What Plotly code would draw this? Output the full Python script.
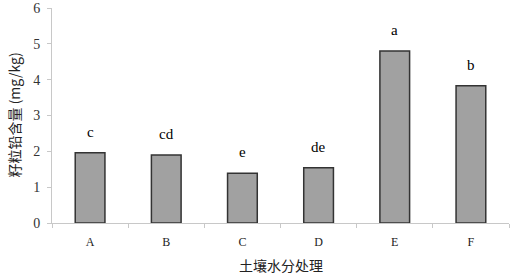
import plotly.graph_objects as go

categories = ["A", "B", "C", "D", "E", "F"]
values = [1.96, 1.90, 1.39, 1.54, 4.80, 3.83]
letters = ["c", "cd", "e", "de", "a", "b"]

fig = go.Figure()
fig.add_trace(go.Bar(
    x=categories, y=values,
    marker=dict(color="#a1a1a1", line=dict(color="#333333", width=1.5)),
    width=0.39,
))
for c, v, t in zip(categories, values, letters):
    fig.add_annotation(x=c, y=v, text=t, showarrow=False, yanchor="bottom", yshift=11,
                       font=dict(family="Liberation Serif, Times New Roman, serif", size=15, color="#000"))

fig.add_annotation(xref="paper", yref="paper", x=0.5, y=0, yanchor="middle", yshift=-42,
                   text="土壤水分处理", showarrow=False,
                   font=dict(family="Noto Sans CJK SC", size=14, color="#222"))
fig.add_annotation(xref="paper", yref="paper", x=0, y=0.5, xanchor="center", xshift=-39,
                   text="籽粒铅含量 (mg/kg)", showarrow=False, textangle=-90,
                   font=dict(family="Noto Sans CJK SC", size=14, color="#222"))

fig.update_layout(
    width=511, height=276,
    margin=dict(l=52, r=2, t=8, b=53),
    paper_bgcolor="white", plot_bgcolor="white",
    showlegend=False,
    xaxis=dict(
        automargin=False,
        showline=True, linecolor="#c8c8c8", linewidth=1,
        ticks="outside", ticklen=4, tickcolor="#c8c8c8", tickson="boundaries",
        ticklabelstandoff=8,
        tickfont=dict(family="Liberation Serif, serif", size=12, color="#222"),
        range=[-0.5, 5.5],
    ),
    yaxis=dict(
        automargin=False,
        range=[0, 6], dtick=1, showgrid=False, zeroline=False,
        showline=True, linecolor="#c8c8c8", linewidth=1,
        ticks="outside", ticklen=4, tickcolor="#c8c8c8",
        ticklabelstandoff=4,
        tickfont=dict(family="Liberation Serif, serif", size=14, color="#333"),
    ),
)
fig.write_html("out.html", config={"displayModeBar": False},
               post_script="document.body.style.margin='0';document.body.style.overflow='hidden';")
